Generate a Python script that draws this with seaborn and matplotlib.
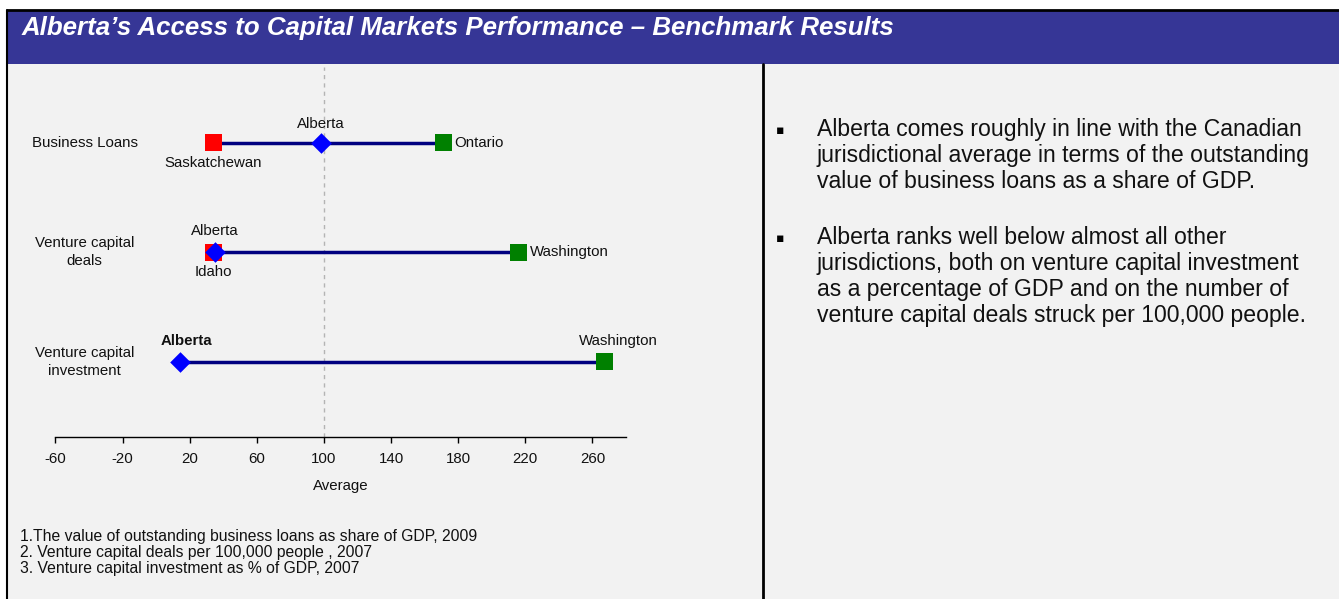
import matplotlib
matplotlib.use("Agg")
import matplotlib.pyplot as plt
from matplotlib.patches import Rectangle
from matplotlib.lines import Line2D
import seaborn as sns
import pandas as pd

# ---- data -------------------------------------------------------------
metrics = ["Business Loans", "Venture capital\ndeals", "Venture capital\ninvestment"]
low_names = ["Saskatchewan", "Idaho", None]
low_values = [34, 34, None]
alberta_values = [98, 35, 14]
high_names = ["Ontario", "Washington", "Washington"]
high_values = [171, 216, 267]
x_ticks = [-60, -20, 20, 60, 100, 140, 180, 220, 260]
footnotes = [
    "1.The value of outstanding business loans as share of GDP, 2009",
    "2. Venture capital deals per 100,000 people , 2007",
    "3. Venture capital investment as % of GDP, 2007",
]
bullets = [
    ["Alberta comes roughly in line with the Canadian",
     "jurisdictional average in terms of the outstanding",
     "value of business loans as a share of GDP."],
    ["Alberta ranks well below almost all other",
     "jurisdictions, both on venture capital investment",
     "as a percentage of GDP and on the number of",
     "venture capital deals struck per 100,000 people."],
]
title = "Alberta\u2019s Access to Capital Markets Performance \u2013 Benchmark Results"

# long table for the markers
rows = []
for i, m in enumerate(metrics):
    if low_values[i] is not None:
        rows.append(dict(row=i, region=low_names[i], value=low_values[i], role="low"))
    rows.append(dict(row=i, region="Alberta", value=alberta_values[i], role="alberta"))
    rows.append(dict(row=i, region=high_names[i], value=high_values[i], role="high"))
df = pd.DataFrame(rows)
ranges = df.groupby("row")["value"].agg(["min", "max"]).reset_index()

# ---- styling ----------------------------------------------------------
sns.set_theme(style="white")
plt.rcParams["font.family"] = ["Liberation Sans", "DejaVu Sans"]
TXT = "#111111"
FS = 10.8

W, H = 1339, 599
fig = plt.figure(figsize=(W / 100, H / 100), dpi=100)
fig.patch.set_facecolor("white")


def fx(px):
    return px / W


def fy(py):
    return 1 - py / H


# page background, header band and frame lines
fig.add_artist(Rectangle((fx(8), 0), fx(W - 8), fy(64), transform=fig.transFigure,
                         facecolor="#f2f2f2", edgecolor="none", zorder=0))
fig.add_artist(Rectangle((fx(8), fy(64)), fx(W - 8), fy(11) - fy(64), transform=fig.transFigure,
                         facecolor="#363696", edgecolor="none", zorder=1))
fig.add_artist(Line2D([fx(7), 1], [fy(10), fy(10)], transform=fig.transFigure,
                      color="black", lw=2, zorder=2))
fig.add_artist(Line2D([fx(7), fx(7)], [0, fy(10)], transform=fig.transFigure,
                      color="black", lw=1.5, zorder=2))
fig.add_artist(Line2D([fx(763), fx(763)], [0, fy(64)], transform=fig.transFigure,
                      color="black", lw=2, zorder=2))

fig.text(fx(21.5), fy(34.5), title, color="white", fontsize=18.65, fontweight="bold",
         fontstyle="italic", va="baseline", ha="left", zorder=3)

# ---- dumbbell chart ---------------------------------------------------
ax = fig.add_axes([fx(55.4), fy(437), fx(626) - fx(55.4), fy(67) - fy(437)])
ax.set_facecolor("none")
ax.set_xlim(-60, 280)
ax.set_ylim(2.685, -0.69)

ax.axvline(100, color="#b4b4b4", lw=1, ls=(0, (3, 3)), zorder=1)
ax.hlines(ranges["row"], ranges["min"], ranges["max"], color="#000080", lw=2.5, zorder=2)

sns.scatterplot(data=df[df.role != "alberta"], x="value", y="row", hue="role",
                palette={"low": "#ff0000", "high": "#008000"}, marker="s", s=150,
                linewidth=0, legend=False, ax=ax, zorder=3)
sns.scatterplot(data=df[df.role == "alberta"], x="value", y="row", color="#0000ff",
                marker="D", s=110, linewidth=0, legend=False, ax=ax, zorder=4)

# point labels
for i in range(len(metrics)):
    a = alberta_values[i]
    last = i == len(metrics) - 1
    above = 13.7 if i == 0 else 15.2
    ax.annotate("Alberta", (a, i), xytext=(5 if last else 0, above), textcoords="offset points",
                ha="center", va="center", fontsize=FS, color=TXT,
                fontweight="bold" if last else "normal")
    if low_values[i] is not None:
        ax.annotate(low_names[i], (low_values[i], i), xytext=(0, -14.4), textcoords="offset points",
                    ha="center", va="center", fontsize=FS, color=TXT)
    if last:
        ax.annotate(high_names[i], (high_values[i], i), xytext=(10, 15), textcoords="offset points",
                    ha="center", va="center", fontsize=FS, color=TXT)
    else:
        ax.annotate(high_names[i], (high_values[i], i), xytext=(8, 0), textcoords="offset points",
                    ha="left", va="center", fontsize=FS, color=TXT)
    ax.text(-42.5, i, metrics[i], ha="center", va="center", fontsize=FS, color=TXT,
            linespacing=1.4)

for s in ["top", "right", "left"]:
    ax.spines[s].set_visible(False)
ax.spines["bottom"].set_color("black")
ax.spines["bottom"].set_linewidth(1)
ax.set_yticks([])
ax.set_xticks(x_ticks)
ax.set_xticklabels([str(t) for t in x_ticks])
ax.tick_params(axis="x", direction="out", length=4, width=1, color="black",
               pad=6.5, labelsize=FS, labelcolor=TXT, bottom=True)
ax.set_xlabel("Average", fontsize=FS, color=TXT, labelpad=10)
ax.set_ylabel("")

# footnotes
for k, note in enumerate(footnotes):
    fig.text(fx(20), fy(536 + 16.5 * k), note, fontsize=11.3, color=TXT, va="center", ha="left")

# ---- commentary -------------------------------------------------------
for lines, base in zip(bullets, [136, 244]):
    fig.text(fx(776), fy(base - 2), "\u25aa", fontsize=9, color="black", va="baseline",
             ha="left", family=["DejaVu Sans"])
    for j, line in enumerate(lines):
        fig.text(fx(817), fy(base + 26 * j), line, fontsize=16.6, color=TXT,
                 va="baseline", ha="left")

fig.savefig("out.png", dpi=100, facecolor=fig.get_facecolor())
